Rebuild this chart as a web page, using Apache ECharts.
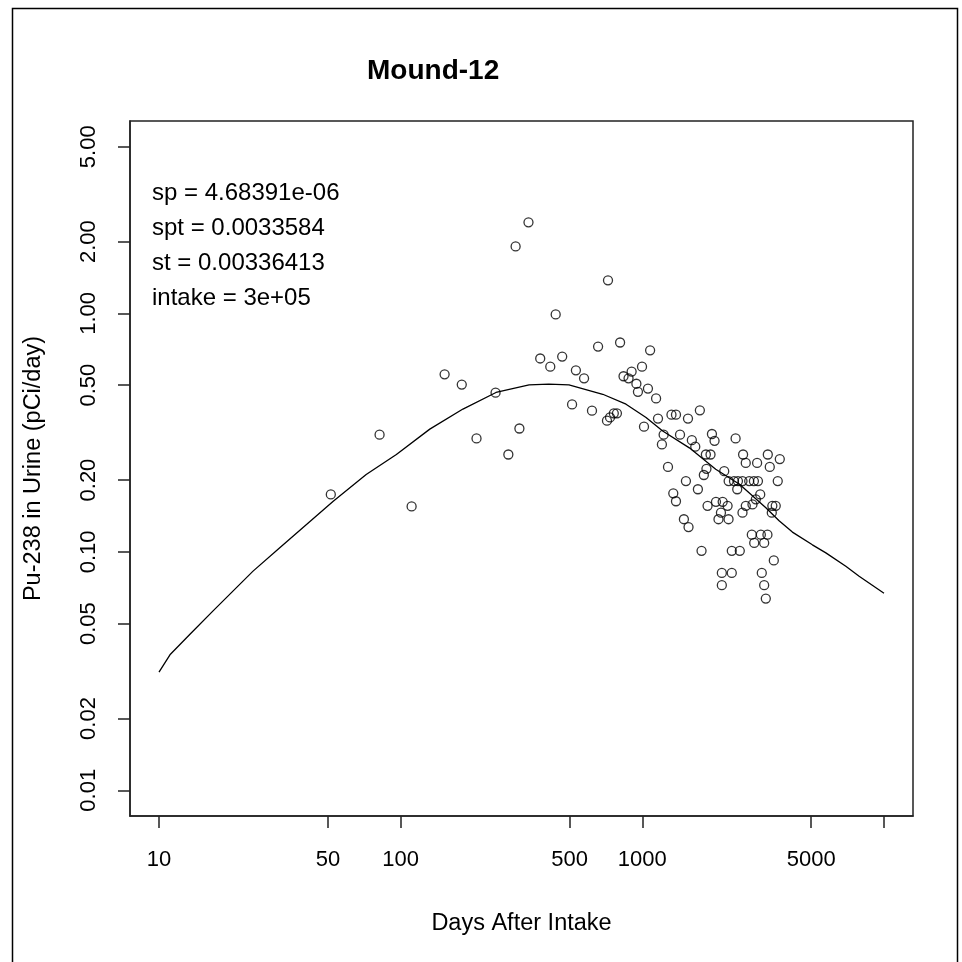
<!DOCTYPE html>
<html>
<head>
<meta charset="utf-8">
<script src="https://cdn.jsdelivr.net/npm/echarts@6/dist/echarts.min.js"></script>
<style>
  html, body { margin: 0; padding: 0; background: #fff; }
  #main { width: 962px; height: 962px; }
</style>
</head>
<body>
<div id="main"></div>
<script>
// measured points (days after intake, pCi/day)
var days = [51.4, 81.8, 111, 152, 179, 206, 247, 279, 299, 338, 310, 721, 438, 656, 809, 1077,
  378, 466, 416, 531, 574, 997, 903, 836, 877, 945, 959, 1055, 1140, 512, 619, 714, 735, 762, 785,
  1161, 1016, 1320, 1378, 1545, 1225, 1432, 1205, 1730, 1603, 1656, 1941, 1990, 2432, 1277, 1832,
  1915, 2612, 2679, 2985, 3305, 3368, 3705, 1842, 1797, 2182, 2276, 2395, 2487, 2597, 2768, 2895,
  3009, 2470, 3634, 1515, 1698, 1343, 1378, 1862, 2017, 2150, 2253, 2115, 2066, 2274, 2597, 2680,
  2856, 2949, 3075, 3451, 3565, 3433, 2838, 3093, 3294, 2904, 3193, 1758, 2345, 2531, 3500, 2133,
  2345, 2133, 3121, 3193, 3243, 1486, 1553];
var urine = [0.174, 0.31, 0.155, 0.555, 0.503, 0.299, 0.465, 0.256, 1.91, 2.41, 0.329, 1.376, 0.99, 0.726, 0.755, 0.70,
  0.647, 0.659, 0.598, 0.577, 0.534, 0.598, 0.57, 0.545, 0.534, 0.507, 0.469, 0.484, 0.44, 0.415, 0.391, 0.355, 0.366, 0.381, 0.381,
  0.362, 0.335, 0.376, 0.376, 0.362, 0.31, 0.31, 0.282, 0.392, 0.294, 0.276, 0.312, 0.292, 0.299, 0.227, 0.256,
  0.256, 0.256, 0.236, 0.236, 0.256, 0.227, 0.245, 0.223, 0.210, 0.218, 0.198, 0.198, 0.198, 0.198, 0.198, 0.198,
  0.198, 0.183, 0.198, 0.198, 0.183, 0.176, 0.163, 0.156, 0.162, 0.162, 0.156, 0.146, 0.137, 0.137, 0.146, 0.156,
  0.158, 0.166, 0.174, 0.156, 0.156, 0.146, 0.118, 0.118, 0.118, 0.109, 0.109, 0.101, 0.101, 0.101, 0.092, 0.0816,
  0.0816, 0.0725, 0.0816, 0.0725, 0.0637, 0.137, 0.127];

// fitted model curve
var fitDays = [10, 11.1, 13.4, 16.7, 24.5, 31.6, 52.6, 72, 96, 132, 181, 248, 340, 410, 497, 686, 856,
  1036, 1214, 1565, 2012, 2524, 3245, 3681, 4178, 5055, 5747, 6950, 7890, 10000];
var fitUrine = [0.0313, 0.037, 0.045, 0.0564, 0.083, 0.104, 0.163, 0.211, 0.256, 0.327, 0.397, 0.466, 0.501, 0.505, 0.501, 0.458, 0.416,
  0.366, 0.321, 0.273, 0.222, 0.192, 0.153, 0.135, 0.121, 0.107, 0.099, 0.087, 0.079, 0.067];

var xTicks = [10, 50, 100, 500, 1000, 5000, 10000];
var xLabels = [10, 50, 100, 500, 1000, 5000];
var yTicks = [0.01, 0.02, 0.05, 0.1, 0.2, 0.5, 1, 2, 5];

var fitText = ['sp = 4.68391e-06', 'spt = 0.0033584', 'st = 0.00336413', 'intake = 3e+05'];

var myChart = echarts.init(document.getElementById('main'));
var font = 'Liberation Sans, Arial, sans-serif';

option = {
  animation: false,
  backgroundColor: '#fff',
  title: {
    text: 'Mound-12',
    left: 362,
    top: 52,
    textStyle: { fontFamily: font, fontSize: 28, fontWeight: 'bold', color: '#000' }
  },
  grid: {
    left: 130, right: 49, top: 121, bottom: 146,
    show: true, borderColor: '#222', borderWidth: 1.5, backgroundColor: 'transparent'
  },
  xAxis: {
    type: 'log', logBase: 10, min: 7.586, max: 13183,
    name: 'Days After Intake', nameLocation: 'middle', nameGap: 96,
    nameTextStyle: { fontFamily: font, fontSize: 23.5, color: '#000' },
    axisLine: { lineStyle: { color: '#222', width: 1.5 } },
    axisTick: { customValues: xTicks, length: 12, lineStyle: { color: '#222', width: 1.5 } },
    axisLabel: {
      customValues: xLabels, margin: 33, fontFamily: font, fontSize: 22, color: '#000',
      formatter: function (v) { return String(Math.round(v)); }
    },
    splitLine: { show: false },
    minorTick: { show: false }
  },
  yAxis: {
    type: 'log', logBase: 10, min: 0.0078, max: 6.41,
    name: 'Pu-238 in Urine (pCi/day)', nameLocation: 'middle', nameGap: 84, nameRotate: 90,
    nameTextStyle: { fontFamily: font, fontSize: 23.5, color: '#000' },
    axisLine: { lineStyle: { color: '#222', width: 1.5 } },
    axisTick: { customValues: yTicks, length: 12, lineStyle: { color: '#222', width: 1.5 } },
    axisLabel: {
      customValues: yTicks, rotate: 90, margin: 30, fontFamily: font, fontSize: 22, color: '#000',
      formatter: function (v) { return Number(v).toFixed(2); }
    },
    splitLine: { show: false }
  },
  graphic: [
    {
      type: 'rect', left: 10, top: 6, silent: true,
      shape: { width: 945, height: 970 },
      style: { fill: 'none', stroke: '#000', lineWidth: 1.5 }
    },
    {
      type: 'text', left: 152, top: 176, silent: true,
      style: { text: fitText.join('\n'), font: '24px ' + font, lineHeight: 35, fill: '#000' }
    }
  ],
  series: [
    {
      name: 'fit',
      type: 'line',
      data: fitDays.map(function (d, i) { return [d, fitUrine[i]]; }),
      showSymbol: false,
      lineStyle: { color: '#000', width: 1.3 },
      z: 2
    },
    {
      name: 'observed',
      type: 'scatter',
      data: days.map(function (d, i) { return [d, urine[i]]; }),
      symbol: 'circle',
      symbolSize: 9,
      itemStyle: { color: 'transparent', borderColor: '#000', borderWidth: 1.3 },
      z: 3
    }
  ]
};
myChart.setOption(option);
</script>
</body>
</html>
